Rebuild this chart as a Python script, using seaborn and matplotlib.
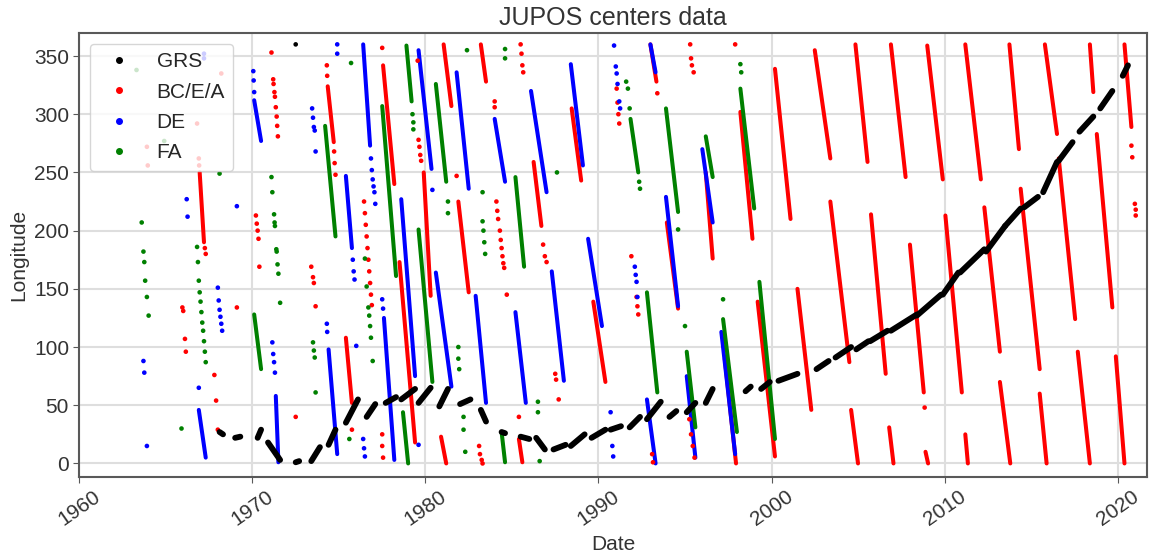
import numpy as np
import pandas as pd
import seaborn as sns
import matplotlib
matplotlib.use("Agg")
import matplotlib.pyplot as plt
from matplotlib.lines import Line2D

# ---- data (date in decimal years, longitude in deg) ----
series_names = ["GRS", "BC/E/A", "DE", "FA"]
series_colors = ["black", "red", "blue", "green"]

# dense drift tracks: (date_start, lon_start, date_end, lon_end)
grs_tracks = [
    (1968.1, 27, 1968.3, 25), (1969.0, 22, 1969.3, 23), (1970.3, 22, 1970.5, 29),
    (1970.9, 18, 1971.6, 3), (1972.5, 1, 1972.7, 2), (1973.4, 2, 1973.9, 14),
    (1974.4, 16, 1974.8, 29), (1975.4, 35, 1976.1, 55), (1976.6, 40, 1977.1, 51),
    (1977.7, 52, 1978.3, 57), (1978.6, 55, 1979.4, 64), (1979.6, 52, 1980.3, 65),
    (1980.8, 49, 1981.3, 64), (1982.0, 51, 1982.6, 55), (1983.2, 46, 1983.5, 36),
    (1984.4, 27, 1984.6, 26), (1985.5, 23, 1986.0, 21), (1986.4, 22, 1986.9, 12),
    (1987.4, 12, 1988.1, 16), (1988.4, 15, 1989.2, 25), (1989.6, 22, 1990.4, 29),
    (1990.7, 29, 1991.3, 32), (1991.8, 31, 1992.4, 40), (1992.8, 38, 1993.6, 53),
    (1994.1, 40, 1994.5, 45), (1995.1, 44, 1995.6, 52), (1996.2, 52, 1996.6, 64),
    (1998.5, 62, 1998.8, 66), (1999.4, 64, 1999.9, 70), (2000.4, 71, 2001.5, 77),
    (2002.6, 81, 2003.3, 88), (2003.7, 91, 2004.6, 100), (2004.9, 98, 2005.6, 105),
    (2005.7, 105, 2006.7, 114), (2006.9, 114, 2008.4, 128), (2008.4, 127, 2009.8, 145),
    (2009.9, 145, 2010.8, 164), (2010.9, 164, 2012.3, 184), (2012.4, 182, 2013.5, 204),
    (2013.5, 204, 2014.4, 219), (2014.6, 220, 2015.4, 229), (2015.7, 233, 2016.5, 259),
    (2016.6, 260, 2017.4, 276), (2017.8, 285, 2018.6, 298), (2019.0, 305, 2019.7, 320),
    (2020.3, 333, 2020.6, 342),
]
grs_points = [(1972.5, 360)]

bca_tracks = [
    (1966.95, 250, 1967.2, 190), (1974.35, 324, 1974.7, 276), (1975.4, 108, 1975.75, 52),
    (1977.55, 342, 1978.2, 240), (1978.5, 173, 1979.4, 18), (1979.9, 250, 1980.3, 144),
    (1980.9, 23, 1981.2, 0), (1981.05, 360, 1981.5, 307), (1981.9, 225, 1982.5, 147),
    (1983.2, 360, 1983.5, 328), (1985.4, 21, 1985.6, 1), (1986.25, 259, 1986.7, 204),
    (1988.45, 305, 1989.0, 243), (1989.7, 139, 1990.4, 70), (1993.0, 360, 1993.35, 328),
    (1993.95, 207, 1994.6, 133), (1996.2, 250, 1996.6, 176), (1997.3, 90, 1997.95, 0),
    (1998.2, 302, 1998.9, 193), (1999.2, 139, 2000.2, 6), (2000.2, 339, 2001.1, 210),
    (2001.5, 150, 2002.3, 46), (2002.5, 355, 2003.4, 262), (2003.4, 225, 2004.5, 87),
    (2004.6, 46, 2005.0, 0), (2004.85, 360, 2005.55, 259), (2005.75, 214, 2006.6, 77),
    (2006.8, 31, 2007.05, 0), (2006.9, 360, 2007.75, 246), (2008.0, 188, 2008.8, 61),
    (2008.9, 10, 2009.05, 0), (2009.0, 359, 2009.9, 244), (2010.05, 213, 2011.0, 61),
    (2011.2, 25, 2011.35, 0), (2011.2, 360, 2012.1, 244), (2012.3, 220, 2013.2, 96),
    (2013.2, 70, 2013.8, 0), (2013.75, 360, 2014.3, 270), (2014.4, 236, 2015.5, 81),
    (2015.5, 60, 2015.9, 0), (2015.8, 360, 2016.5, 283), (2016.6, 262, 2017.55, 124),
    (2017.7, 96, 2018.4, 0), (2018.4, 360, 2018.6, 319), (2018.8, 283, 2019.7, 134),
    (2019.9, 92, 2020.4, 0), (2020.4, 360, 2020.8, 289),
]
bca_points = [
    (1963.9, 272), (1963.95, 256), (1966.8, 292), (1968.2, 335),
    (1965.95, 134), (1966.0, 131), (1966.1, 107), (1966.15, 96),
    (1966.9, 262), (1966.92, 256), (1967.25, 185), (1967.3, 180),
    (1967.8, 76), (1967.9, 54), (1968.0, 29), (1969.1, 134),
    (1970.2, 213), (1970.25, 206), (1970.3, 200), (1970.35, 193), (1970.4, 169),
    (1971.1, 353), (1971.2, 330), (1971.22, 326), (1971.27, 319), (1971.3, 315),
    (1971.35, 306), (1971.4, 298), (1971.43, 290), (1971.47, 281),
    (1972.5, 40), (1973.4, 169), (1973.5, 160), (1973.55, 155), (1973.65, 135),
    (1974.3, 342), (1974.32, 333), (1974.72, 268), (1974.75, 258), (1974.8, 248),
    (1975.75, 29),
    (1976.45, 225), (1976.5, 215), (1976.55, 205), (1976.6, 195), (1976.65, 185),
    (1976.7, 175), (1976.75, 165), (1976.8, 155), (1976.85, 145), (1976.9, 136),
    (1977.5, 357), (1977.5, 25), (1977.5, 15), (1977.55, 5),
    (1979.55, 346), (1979.6, 278), (1979.65, 272), (1979.7, 265), (1979.75, 260),
    (1981.8, 247), (1983.1, 15), (1983.15, 8), (1983.25, 3), (1983.3, 0),
    (1984.0, 311), (1984.0, 306),
    (1984.1, 225), (1984.15, 217), (1984.2, 210), (1984.3, 200), (1984.35, 192),
    (1984.4, 185), (1984.45, 178), (1984.5, 172), (1984.55, 168), (1984.7, 145),
    (1985.4, 40), (1985.5, 360), (1985.55, 352), (1985.6, 342), (1985.65, 336),
    (1986.8, 188), (1986.9, 178), (1987.0, 173),
    (1987.5, 77), (1987.55, 72), (1987.7, 55),
    (1991.05, 322), (1991.1, 310), (1991.15, 300), (1991.2, 292),
    (1991.9, 178), (1992.2, 143), (1992.25, 135), (1992.3, 128),
    (1993.1, 8), (1993.15, 1), (1993.4, 318),
    (1995.25, 38), (1995.35, 25), (1995.45, 15), (1995.55, 5),
    (1995.3, 360), (1995.35, 348), (1995.4, 342), (1995.5, 336),
    (1997.9, 360), (2008.85, 48),
    (2020.8, 273), (2020.85, 263), (2021.0, 223), (2021.05, 218), (2021.05, 213),
]

de_tracks = [
    (1966.9, 46, 1967.3, 5), (1970.1, 312, 1970.5, 277), (1971.35, 58, 1971.5, 1),
    (1974.4, 98, 1974.9, 8), (1975.4, 247, 1975.75, 185), (1976.4, 360, 1976.8, 273),
    (1977.6, 125, 1978.2, 3), (1978.6, 227, 1979.4, 75), (1979.6, 355, 1980.35, 253),
    (1980.6, 164, 1981.5, 66), (1981.8, 336, 1982.5, 236), (1982.9, 144, 1983.5, 52),
    (1984.0, 296, 1984.6, 242), (1985.2, 130, 1985.8, 52), (1986.1, 320, 1987.0, 233),
    (1987.3, 165, 1988.0, 71), (1988.4, 343, 1989.1, 256), (1989.4, 193, 1990.2, 118),
    (1992.8, 55, 1993.3, 0), (1993.0, 360, 1993.3, 336), (1993.9, 229, 1994.6, 135),
    (1995.1, 75, 1995.6, 5), (1996.0, 270, 1996.6, 207), (1997.1, 113, 1997.9, 8),
]
de_points = [
    (1963.7, 88), (1963.75, 78), (1963.9, 15), (1966.2, 227), (1966.25, 212),
    (1966.9, 65), (1967.2, 352), (1967.2, 348),
    (1968.0, 151), (1968.05, 140), (1968.1, 132), (1968.15, 126), (1968.2, 120), (1968.25, 114),
    (1969.1, 221), (1970.05, 337), (1970.07, 329), (1970.1, 319),
    (1971.15, 104), (1971.2, 94), (1971.25, 87), (1971.3, 78),
    (1973.45, 305), (1973.5, 297), (1973.55, 289), (1973.6, 286), (1973.65, 268),
    (1974.3, 120), (1974.32, 113), (1974.9, 360), (1974.9, 352),
    (1975.8, 175), (1975.85, 165), (1975.9, 158), (1976.0, 101),
    (1976.4, 21), (1976.45, 13), (1976.5, 6),
    (1976.85, 262), (1976.9, 252), (1976.95, 244), (1977.0, 238), (1977.05, 233), (1977.1, 223),
    (1977.5, 141), (1977.55, 133), (1979.6, 16), (1980.4, 235),
    (1990.7, 44), (1990.8, 15), (1990.85, 6),
    (1990.9, 359), (1991.0, 341), (1991.05, 335), (1991.1, 326), (1991.2, 311), (1991.25, 305),
    (1992.1, 169), (1992.15, 162), (1992.2, 156), (1992.25, 143),
]

fa_tracks = [
    (1970.1, 128, 1970.5, 81), (1974.2, 290, 1974.8, 195), (1977.5, 307, 1978.3, 161),
    (1978.7, 44, 1979.0, 0), (1978.9, 359, 1979.2, 311), (1979.6, 201, 1980.4, 70),
    (1980.6, 326, 1981.2, 242), (1984.4, 27, 1984.6, 1), (1985.2, 246, 1985.7, 169),
    (1991.85, 296, 1992.3, 250), (1992.8, 147, 1993.4, 61), (1993.9, 305, 1994.6, 216),
    (1995.1, 96, 1995.6, 31), (1996.2, 281, 1996.6, 246), (1997.2, 124, 1998.0, 27),
    (1998.2, 322, 1999.0, 219), (1999.3, 156, 2000.2, 21),
]
fa_points = [
    (1963.3, 338), (1964.9, 277),
    (1963.6, 207), (1963.7, 182), (1963.75, 173), (1963.8, 157), (1963.9, 143), (1964.0, 127),
    (1965.9, 30),
    (1966.8, 186), (1966.85, 173), (1966.9, 157), (1966.95, 147), (1967.0, 139), (1967.05, 130),
    (1967.1, 121), (1967.15, 114), (1967.2, 105), (1967.25, 96), (1967.3, 87),
    (1968.1, 249),
    (1971.1, 246), (1971.15, 233), (1971.25, 214), (1971.28, 207), (1971.3, 204),
    (1971.38, 184), (1971.4, 182), (1971.45, 171), (1971.5, 163), (1971.6, 138),
    (1973.5, 104), (1973.55, 97), (1973.6, 91), (1973.65, 61),
    (1975.6, 21), (1975.7, 344),
    (1976.5, 176), (1976.6, 152), (1976.7, 134), (1976.75, 127), (1976.8, 118),
    (1976.85, 108), (1976.95, 88),
    (1979.25, 300), (1979.3, 293), (1979.3, 287),
    (1981.3, 225), (1981.3, 215), (1981.9, 100), (1981.9, 90), (1981.95, 81),
    (1982.2, 40), (1982.2, 29), (1982.3, 10), (1982.4, 355),
    (1983.3, 233), (1983.3, 208), (1983.35, 200), (1983.4, 190), (1983.45, 180),
    (1984.6, 356), (1984.6, 348), (1986.5, 53), (1986.5, 44), (1986.6, 2),
    (1987.6, 250),
    (1991.6, 328), (1991.7, 322), (1991.8, 305), (1992.35, 242), (1992.4, 236),
    (1994.6, 201), (1995.0, 118), (1997.2, 141), (1998.2, 343), (1998.25, 336),
]

x_ticks = [1960, 1970, 1980, 1990, 2000, 2010, 2020]
y_ticks = [0, 50, 100, 150, 200, 250, 300, 350]

# ---- tables ----
all_tracks = dict(zip(series_names, [grs_tracks, bca_tracks, de_tracks, fa_tracks]))
all_points = dict(zip(series_names, [grs_points, bca_points, de_points, fa_points]))

rows = []
for name, tracks in all_tracks.items():
    for k, (d0, l0, d1, l1) in enumerate(tracks):
        rows.append((name, "{}-{}".format(name, k), d0, l0))
        rows.append((name, "{}-{}".format(name, k), d1, l1))
tracks_df = pd.DataFrame(rows, columns=["series", "track", "date", "lon"])

prow = []
for name, pts in all_points.items():
    for d, l in pts:
        prow.append((name, d, l))
points_df = pd.DataFrame(prow, columns=["series", "date", "lon"])

palette = dict(zip(series_names, series_colors))

# ---- style ----
sns.set_style("whitegrid", {"axes.edgecolor": "0.35", "grid.color": "0.87",
                            "xtick.bottom": True, "ytick.left": True})
plt.rcParams["font.family"] = ["Liberation Sans", "DejaVu Sans"]
plt.rcParams["font.size"] = 15

fig, ax = plt.subplots(figsize=(11.51, 5.59), dpi=100)
fig.subplots_adjust(left=0.069, right=0.9965, bottom=0.147, top=0.9404)

colored = tracks_df[tracks_df["series"] != "GRS"]
sns.lineplot(data=colored, x="date", y="lon", hue="series", hue_order=series_names[1:],
             palette=palette, units="track", estimator=None, sort=False,
             linewidth=2.9, solid_capstyle="round", legend=False, ax=ax, zorder=2)
sns.lineplot(data=tracks_df[tracks_df["series"] == "GRS"], x="date", y="lon",
             units="track", estimator=None, sort=False, color="black",
             linewidth=4.2, solid_capstyle="round", legend=False, ax=ax, zorder=4)
sns.scatterplot(data=points_df, x="date", y="lon", hue="series", hue_order=series_names,
                palette=palette, s=11, linewidth=0, legend=False, ax=ax, zorder=3)

handles = [Line2D([], [], marker="o", linestyle="", color=c, markersize=4)
           for c in series_colors]
ax.legend(handles, series_names, loc="upper left", fontsize=15, labelspacing=0.55)

ax.set_xlim(1960, 2021.7)
ax.set_ylim(-11.5, 369.5)
ax.set_xticks(x_ticks)
ax.set_yticks(y_ticks)
ax.tick_params(axis="both", labelsize=15, length=4, color="0.35", labelcolor="0.2")
plt.setp(ax.get_xticklabels(), rotation=35)
for s in ax.spines.values():
    s.set_linewidth(1.5)
ax.grid(linewidth=1.5)

ax.set_title("JUPOS centers data", fontsize=18, color="0.2")
ax.set_xlabel("Date", fontsize=15, color="0.2")
ax.set_ylabel("Longitude", fontsize=15, color="0.2")

plt.savefig("out.png", dpi=100)
